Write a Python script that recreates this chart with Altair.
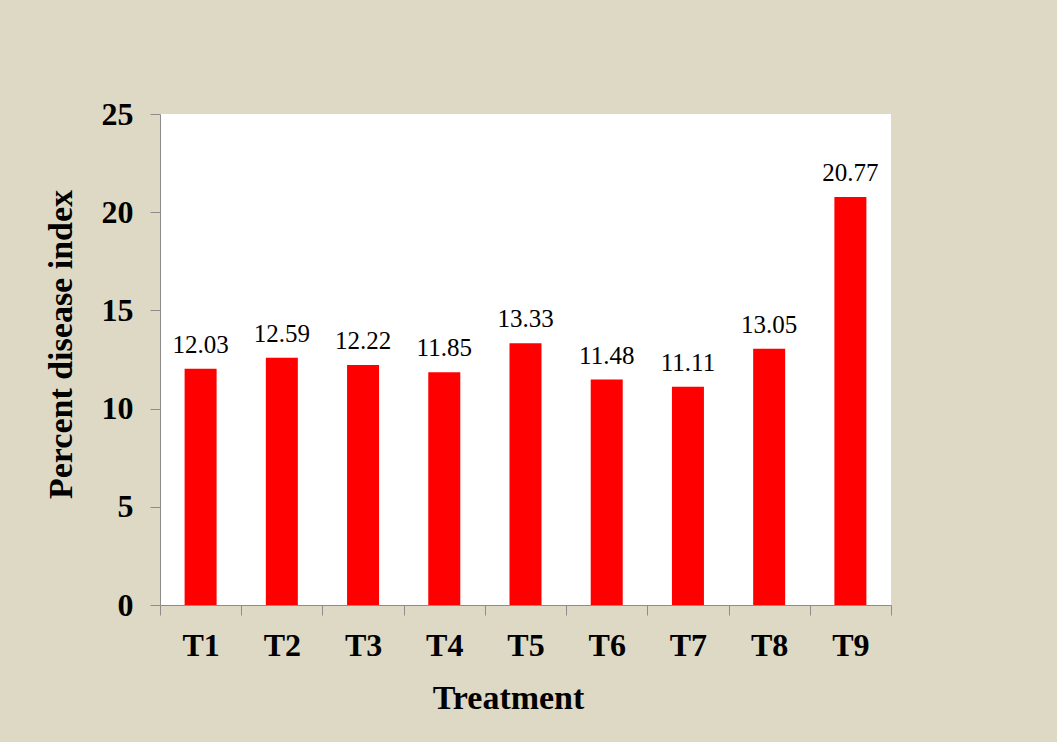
import altair as alt
import pandas as pd

treatments = ["T1", "T2", "T3", "T4", "T5", "T6", "T7", "T8", "T9"]
pdi_values = [12.03, 12.59, 12.22, 11.85, 13.33, 11.48, 11.11, 13.05, 20.77]
y_ticks = [0, 5, 10, 15, 20, 25]

df = pd.DataFrame({"Treatment": treatments, "PDI": pdi_values})
df["label"] = df["PDI"].map(lambda v: f"{v:.2f}")

FONT = "Times New Roman, Liberation Serif, serif"
AXIS_GRAY = "#8c8c8c"

x_enc = alt.X(
    "Treatment:N",
    sort=treatments,
    scale=alt.Scale(paddingInner=0, paddingOuter=0),
    axis=alt.Axis(
        title="Treatment",
        labelAngle=0,
        labelFont=FONT,
        labelFontSize=32,
        labelFontWeight="bold",
        labelColor="black",
        labelBaseline="alphabetic",
        labelPadding=40,
        tickBand="extent",
        tickSize=10,
        tickColor=AXIS_GRAY,
        domainColor=AXIS_GRAY,
        titleFont=FONT,
        titleFontSize=34,
        titleFontWeight="bold",
        titleColor="black",
        titleBaseline="alphabetic",
        titleAlign="center",
        titleX=348,
        titleY=103,
    ),
)

y_enc = alt.Y(
    "PDI:Q",
    scale=alt.Scale(domain=[0, 25], nice=False),
    axis=alt.Axis(
        title="Percent disease index",
        values=y_ticks,
        grid=False,
        labelFont=FONT,
        labelFontSize=32,
        labelFontWeight="bold",
        labelColor="black",
        labelPadding=17,
        tickSize=10,
        tickColor=AXIS_GRAY,
        domainColor=AXIS_GRAY,
        titleFont=FONT,
        titleFontSize=34,
        titleFontWeight="bold",
        titleColor="black",
        titleBaseline="middle",
        titleX=-99,
        titleY=230,
        titleAngle=270,
    ),
)

bars = alt.Chart(df).mark_bar(color="#ff0000", width={"band": 0.394}).encode(x=x_enc, y=y_enc)

labels = alt.Chart(df).mark_text(
    font=FONT, fontSize=25, color="black", baseline="alphabetic", dy=-16
).encode(
    x=alt.X("Treatment:N", sort=treatments),
    y=alt.Y("PDI:Q"),
    text="label:N",
)

chart = (
    alt.layer(bars, labels)
    .properties(
        width=731,
        height=491,
        background="#ddd9c4",
        padding={"left": 160, "top": 114, "right": 166, "bottom": 137},
        autosize=alt.AutoSizeParams(type="none"),
    )
    .configure_view(fill="white", stroke=None)
)

chart.save("out.html", embed_options={"renderer": "svg", "actions": False})
